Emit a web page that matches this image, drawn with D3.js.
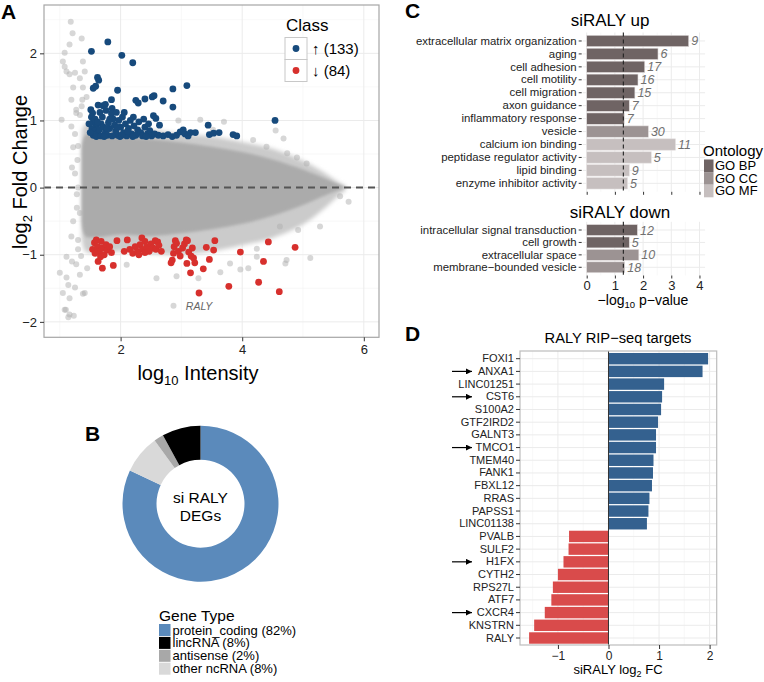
<!DOCTYPE html>
<html>
<head>
<meta charset="utf-8">
<script src="https://cdn.jsdelivr.net/npm/d3@7"></script>
<style>
  body { margin: 0; background: #fff; }
  svg, svg text { font-family: "Liberation Sans", Arial, sans-serif; }
</style>
</head>
<body>
<svg width="764" height="682" font-family="Liberation Sans, Arial, sans-serif"></svg>
<script>
// ---------- data ----------
// A: MA plot (log10 intensity, log2 fold change)
const maUp = [
  [1.52,2.03],[1.79,2.17],[2.02,1.97],[2.20,1.86],[1.62,1.64],[1.64,1.60],[1.55,1.48],[1.59,1.51],[1.95,1.45],
  [2.86,1.47],[3.09,1.52],[2.86,1.20],[2.70,1.29],[2.25,1.30],[2.29,1.26],[2.40,1.32],[2.52,1.35],[2.55,1.37],
  [1.85,1.31],[1.63,1.23],[1.71,1.22],[1.75,1.24],[1.51,1.16],[1.54,1.11],[1.86,1.18],[3.44,0.93],[4.54,1.00],
  [2.54,1.07],[2.58,1.03],[2.21,1.05],[2.64,0.93],
  [1.52,1.05],[1.55,0.98],[1.58,1.02],[1.60,0.92],[1.53,0.88],[1.57,0.84],[1.62,0.80],[1.55,0.78],[1.65,0.86],
  [1.68,0.95],[1.70,1.05],[1.72,0.90],[1.75,0.82],[1.78,0.78],[1.80,0.97],[1.82,0.88],[1.85,1.10],[1.88,1.02],
  [1.90,0.93],[1.92,0.84],[1.95,0.78],[1.97,1.00],[2.00,0.90],[2.03,1.05],[2.05,0.82],[2.08,0.95],[2.10,0.77],
  [2.13,0.88],[2.16,1.00],[2.18,0.80],[2.22,0.92],[2.25,0.78],[2.28,0.86],[2.30,0.98],[2.33,0.82],[2.36,0.77],
  [2.40,0.90],[2.44,0.80],[2.48,0.85],[2.51,0.77],[2.56,0.80],[2.62,0.78],[2.70,0.77],[2.78,0.79],[2.85,0.76],
  [2.92,0.78],[2.98,0.83],[3.03,0.86],[3.06,0.80],[3.11,0.77],[3.15,0.82],[3.23,0.82],[3.46,0.79],[3.53,0.81],
  [3.62,0.82],[3.85,0.79],[3.91,0.77],[1.48,0.95],[1.50,0.82],[1.66,1.12],[1.76,1.15],[1.82,1.02],[1.93,1.12],
  [2.06,1.12],[2.12,0.84],[1.60,0.76],[1.68,0.77],[1.73,0.76],[1.86,0.77],[1.99,0.76],[2.20,0.76],[2.42,0.76],
  [1.62,0.98],[1.78,0.88],[1.94,0.90],[2.02,0.78],[2.38,1.02],[2.46,0.95]
];
const maDown = [
  [1.54,-0.92],[1.63,-1.10],[1.70,-1.20],[1.88,-1.16],[1.94,-0.79],[2.11,-0.78],[2.06,-0.95],[2.35,-0.75],
  [2.57,-0.79],[2.61,-0.81],[3.09,-1.13],[3.15,-1.27],[3.29,-1.57],[3.36,-1.21],[3.46,-1.07],[3.53,-0.93],
  [3.41,-0.89],[3.55,-0.79],[3.78,-1.47],[3.97,-0.96],[4.27,-1.41],[4.35,-1.10],[4.43,-0.81],[4.61,-1.55],
  [4.87,-0.89],
  [1.57,-0.82],[1.60,-0.78],[1.62,-0.88],[1.65,-0.95],[1.58,-0.98],[1.68,-0.80],[1.70,-0.90],[1.73,-1.00],
  [1.76,-0.85],[1.78,-0.93],[1.82,-0.88],[1.85,-0.97],[1.67,-1.03],
  [2.15,-0.92],[2.20,-0.98],[2.24,-0.88],[2.28,-0.95],[2.32,-0.85],[2.36,-0.92],[2.40,-0.80],[2.43,-0.88],
  [2.47,-0.95],[2.50,-0.84],[2.53,-0.90],[2.58,-0.92],[2.63,-0.86],[2.67,-0.95],[2.30,-1.00],[2.40,-0.97],
  [2.85,-1.08],[2.87,-0.98],[2.88,-0.88],[2.90,-0.79],[2.92,-0.83],[2.95,-0.95],[2.98,-1.02],[3.02,-0.90],
  [3.05,-0.84],[3.08,-0.78],[3.10,-0.79],[3.12,-0.96],[3.16,-1.02],[3.18,-0.90],[3.20,-1.05],[3.22,-1.12],
  [2.83,-1.12]
];
const maGray = [
  [1.18,2.47],[1.21,2.30],[1.36,2.22],[1.16,2.13],[1.08,2.01],[1.05,1.88],[1.08,1.80],[1.11,1.73],[1.16,1.69],
  [1.25,1.71],[1.33,1.63],[1.38,1.88],[1.41,1.73],[1.38,1.49],[1.22,1.49],[1.44,1.35],[1.37,1.31],[1.36,1.21],
  [1.27,1.11],[1.19,1.31],[1.03,1.01],[1.19,0.91],[1.27,1.16],[1.33,1.08],[1.29,0.41],[1.25,0.21],[1.33,-0.38],
  [1.19,-0.73],[1.30,-0.78],[1.11,-1.03],[1.00,-1.27],[1.11,-1.34],[1.05,-1.57],[1.14,-1.45],[1.27,-1.14],
  [1.25,-1.49],[1.41,-1.57],[1.08,-1.82],[1.16,-1.89],[1.10,-1.82],[1.14,-1.93],[1.23,-1.91],[1.16,-1.65],
  [1.38,-1.58],[1.33,-1.30],[1.45,-1.20],[2.87,-1.76],[2.10,-1.15],[2.59,-1.35],[2.92,-1.32],[3.28,-1.35],
  [3.64,-1.26],[3.97,-1.22],[4.10,-1.20],[4.24,-1.03],[4.71,-1.13],[5.12,-1.05],[4.24,-0.91],[3.80,-1.13],
  [3.31,1.01],[3.52,0.86],[4.18,0.71],[4.40,0.61],[4.68,0.73],[4.74,0.51],[5.06,0.36],[5.61,-0.13],[5.75,-0.21],
  [5.50,0.01],[5.28,-0.58],[4.92,-0.63],[4.62,-0.58],[4.73,-1.08],[4.55,0.85],[4.90,0.45],[3.70,0.98],
  [2.95,1.00],[1.22,0.60],[1.30,0.00],[1.28,-0.30],[1.25,0.80],[1.30,0.62],[1.20,0.30],[1.28,-0.10],
  [1.22,-0.50],[1.30,-0.92],[1.35,-1.02],[1.20,-1.10]
];
// envelope of the dense grey cloud of non-significant genes
const cloudX   = [1.36, 1.42, 1.6, 2.0, 2.5, 3.0, 3.5, 4.0, 4.5, 5.0, 5.3, 5.55, 5.7];
const outerHi  = [0.85, 0.95, 0.95, 0.88, 0.86, 0.80, 0.76, 0.68, 0.58, 0.40, 0.25, 0.10, 0.02];
const outerLo  = [-0.75, -0.95, -0.98, -0.95, -0.98, -1.00, -0.95, -0.86, -0.75, -0.55, -0.35, -0.15, -0.04];
const innerHi  = [0.60, 0.78, 0.80, 0.75, 0.72, 0.67, 0.61, 0.53, 0.42, 0.27, 0.16, 0.06, 0.01];
const innerLo  = [-0.50, -0.72, -0.74, -0.70, -0.72, -0.68, -0.62, -0.54, -0.42, -0.26, -0.14, -0.05, 0.00];
const classLabels = ["\u2191 (133)", "\u2193 (84)"];

// B: gene types
const geneTypes = ["protein_coding", "lincRNA", "antisense", "other ncRNA"];
const genePct = [82, 8, 2, 8];
const donutOrder = [0, 3, 2, 1]; // clockwise from 12 o'clock

// C: GO enrichment
const goUpTerms = ["extracellular matrix organization", "aging", "cell adhesion", "cell motility",
  "cell migration", "axon guidance", "inflammatory response", "vesicle", "calcium ion binding",
  "peptidase regulator activity", "lipid binding", "enzyme inhibitor activity"];
const goUpP = [3.62, 2.53, 2.06, 1.82, 1.71, 1.51, 1.33, 2.19, 3.15, 2.29, 1.51, 1.45];
const goUpN = [9, 6, 17, 16, 15, 7, 7, 30, 11, 5, 9, 5];
const goUpOnt = ["GO BP", "GO BP", "GO BP", "GO BP", "GO BP", "GO BP", "GO BP", "GO CC", "GO MF", "GO MF", "GO MF", "GO MF"];
const goDownTerms = ["intracellular signal transduction", "cell growth", "extracellular space", "membrane\u2212bounded vesicle"];
const goDownP = [1.80, 1.51, 1.85, 1.35];
const goDownN = [12, 5, 10, 18];
const goDownOnt = ["GO BP", "GO BP", "GO CC", "GO CC"];
const ontologies = ["GO BP", "GO CC", "GO MF"];
const pCut = 1.3;

// D: RIP-seq targets
const ripGenes = ["FOXI1", "ANXA1", "LINC01251", "CST6", "S100A2", "GTF2IRD2", "GALNT3", "TMCO1", "TMEM40",
  "FANK1", "FBXL12", "RRAS", "PAPSS1", "LINC01138", "PVALB", "SULF2", "H1FX", "CYTH2", "RPS27L", "ATF7",
  "CXCR4", "KNSTRN", "RALY"];
const ripFC = [1.97, 1.86, 1.10, 1.06, 1.04, 0.98, 0.94, 0.94, 0.89, 0.88, 0.86, 0.81, 0.79, 0.76,
  -0.78, -0.79, -0.89, -1.00, -1.10, -1.13, -1.26, -1.47, -1.57];
const arrowGenes = ["ANXA1", "CST6", "TMCO1", "H1FX", "CXCR4"];

// ---------- drawing ----------
const FONT = "Liberation Sans, Arial, sans-serif";
const svg = d3.select("svg");
svg.append("rect").attr("width", 764).attr("height", 682).attr("fill", "#fff");
const defs = svg.append("defs");
const intFmt = d => d < 0 ? "\u2212" + Math.abs(d) : String(d);

// soft edge for the point cloud
[["softOuter", 2.2], ["softInner", 1.4]].forEach(([id, s]) => {
  defs.append("filter").attr("id", id).attr("x", "-10%").attr("y", "-20%").attr("width", "120%").attr("height", "140%")
    .append("feGaussianBlur").attr("stdDeviation", s);
});

function styleAxis(a, size) {
  a.attr("font-family", FONT);
  a.select(".domain").remove();
  a.selectAll("line").attr("stroke", "#333");
  a.selectAll("text").attr("font-size", size).attr("fill", "#222");
}

function panelLetter(t, x, y) {
  svg.append("text").attr("x", x).attr("y", y).attr("font-size", 21).attr("font-weight", "bold")
    .attr("fill", "#000").text(t);
}

// ===== Panel A =====
const xA = d3.scaleLinear().domain([0.74, 6.25]).range([44, 379]);
const yA = d3.scaleLinear().domain([-2.23, 2.72]).range([337.3, 5]);
const gA = svg.append("g");
defs.append("clipPath").attr("id", "clipA").append("rect")
  .attr("x", 44).attr("y", 5).attr("width", 335).attr("height", 332.3);

// grid
[1, 3, 5].forEach(v => gA.append("line").attr("x1", xA(v)).attr("x2", xA(v)).attr("y1", 5).attr("y2", 337.3)
  .attr("stroke", "#f4f4f4").attr("stroke-width", 0.6));
[-1.5, -0.5, 0.5, 1.5, 2.5].forEach(v => gA.append("line").attr("y1", yA(v)).attr("y2", yA(v)).attr("x1", 44).attr("x2", 379)
  .attr("stroke", "#f4f4f4").attr("stroke-width", 0.6));
[2, 4, 6].forEach(v => gA.append("line").attr("x1", xA(v)).attr("x2", xA(v)).attr("y1", 5).attr("y2", 337.3)
  .attr("stroke", "#ebebeb").attr("stroke-width", 1));
[-2, -1, 0, 1, 2].forEach(v => gA.append("line").attr("y1", yA(v)).attr("y2", yA(v)).attr("x1", 44).attr("x2", 379)
  .attr("stroke", "#ebebeb").attr("stroke-width", 1));

const plotA = gA.append("g").attr("clip-path", "url(#clipA)");
const cloud = cloudX.map((x, i) => ({ x, oh: outerHi[i], ol: outerLo[i], ih: innerHi[i], il: innerLo[i] }));
plotA.append("path").datum(cloud)
  .attr("d", d3.area().curve(d3.curveCatmullRom).x(d => xA(d.x)).y0(d => yA(d.ol)).y1(d => yA(d.oh)))
  .attr("fill", "#cbcbcb").attr("filter", "url(#softOuter)");
plotA.append("path").datum(cloud)
  .attr("d", d3.area().curve(d3.curveCatmullRom).x(d => xA(d.x)).y0(d => yA(d.il)).y1(d => yA(d.ih)))
  .attr("fill", "#ababab").attr("filter", "url(#softInner)");

plotA.append("g").selectAll("circle").data(maGray).enter().append("circle")
  .attr("cx", d => xA(d[0])).attr("cy", d => yA(d[1])).attr("r", 3)
  .attr("fill", "#b0b0b0").attr("fill-opacity", 0.5);

plotA.append("line").attr("x1", 44).attr("x2", 379).attr("y1", yA(0)).attr("y2", yA(0))
  .attr("stroke", "#555").attr("stroke-width", 2).attr("stroke-dasharray", "7,5");

plotA.append("g").selectAll("circle").data(maUp).enter().append("circle")
  .attr("cx", d => xA(d[0])).attr("cy", d => yA(d[1])).attr("r", 3.4).attr("fill", "#174a7c");
plotA.append("g").selectAll("circle").data(maDown).enter().append("circle")
  .attr("cx", d => xA(d[0])).attr("cy", d => yA(d[1])).attr("r", 3.4).attr("fill", "#d7302d");

gA.append("text").attr("x", xA(3.29)).attr("y", yA(-1.76) + 4).attr("text-anchor", "middle")
  .attr("font-size", 10.5).attr("font-style", "italic").attr("fill", "#666").text("RALY");

gA.append("rect").attr("x", 44).attr("y", 5).attr("width", 335).attr("height", 332.3)
  .attr("fill", "none").attr("stroke", "#a6a6a6").attr("stroke-width", 1.2);

// axes A
const axA = gA.append("g").attr("transform", "translate(0,337.3)")
  .call(d3.axisBottom(xA).tickValues([2, 4, 6]).tickFormat(intFmt).tickSize(4).tickPadding(3));
const ayA = gA.append("g").attr("transform", "translate(44,0)")
  .call(d3.axisLeft(yA).tickValues([-2, -1, 0, 1, 2]).tickFormat(intFmt).tickSize(4).tickPadding(3));
styleAxis(axA, 13);
styleAxis(ayA, 13);

const xlabA = gA.append("text").attr("x", 198).attr("y", 380).attr("text-anchor", "middle").attr("font-size", 20);
xlabA.append("tspan").text("log");
xlabA.append("tspan").attr("font-size", 13).attr("dy", 5).text("10");
xlabA.append("tspan").attr("dy", -5).text(" Intensity");

const ylabA = gA.append("text").attr("transform", "translate(27,172) rotate(-90)").attr("text-anchor", "middle").attr("font-size", 20);
ylabA.append("tspan").text("log");
ylabA.append("tspan").attr("font-size", 13).attr("dy", 5).text("2");
ylabA.append("tspan").attr("dy", -5).text(" Fold Change");

// legend A
const legA = gA.append("g");
legA.append("text").attr("x", 286).attr("y", 31).attr("font-size", 17).text("Class");
[["#174a7c", classLabels[0]], ["#d7302d", classLabels[1]]].forEach((d, i) => {
  const y0 = 37.5 + i * 22;
  legA.append("rect").attr("x", 285).attr("y", y0).attr("width", 22).attr("height", 22)
    .attr("fill", "#fff").attr("stroke", "#c8c8c8");
  legA.append("circle").attr("cx", 296).attr("cy", y0 + 11).attr("r", 3.4).attr("fill", d[0]);
  legA.append("text").attr("x", 312).attr("y", y0 + 16).attr("font-size", 15).text(d[1]);
});
panelLetter("A", 1, 18.5);

// ===== Panel B =====
const typeColor = d3.scaleOrdinal().domain(geneTypes).range(["#5b8abb", "#000000", "#a8a8a8", "#d9d9d9"]);
const gB = svg.append("g").attr("transform", "translate(200.5,503.7)");
const pie = d3.pie().sort(null).value(d => genePct[d]);
const arc = d3.arc().innerRadius(44).outerRadius(78);
gB.selectAll("path").data(pie(donutOrder)).enter().append("path")
  .attr("d", arc).attr("fill", d => typeColor(geneTypes[d.data]));
gB.append("text").attr("y", -1).attr("text-anchor", "middle").attr("font-size", 15.5).text("si RALY");
gB.append("text").attr("y", 17).attr("text-anchor", "middle").attr("font-size", 15.5).text("DEGs");
panelLetter("B", 85, 441);

const legB = svg.append("g");
legB.append("text").attr("x", 159).attr("y", 621).attr("font-size", 15.5).text("Gene Type");
geneTypes.forEach((t, i) => {
  const y0 = 624 + i * 12.9;
  legB.append("rect").attr("x", 159).attr("y", y0).attr("width", 11.5).attr("height", 12)
    .attr("fill", typeColor(t));
  legB.append("text").attr("x", 172.5).attr("y", y0 + 10.5).attr("font-size", 13)
    .text(`${t} (${genePct[i]}%)`);
});

// ===== Panel C =====
const ontColor = d3.scaleOrdinal().domain(ontologies).range(["#6f6464", "#9c9393", "#c6bfbf"]);
const xC = d3.scaleLinear().domain([0, 4.2]).range([586.7, 705.1]);

function goChart(terms, pv, counts, ont, y0, y1, showLabels) {
  const g = svg.append("g");
  const yC = d3.scaleBand().domain(terms).range([y0, y1]).paddingInner(0.12).paddingOuter(0.06);
  const top = y0 - 2, bot = y1 + 2;
  [0.5, 1.5, 2.5, 3.5].forEach(v => g.append("line").attr("x1", xC(v)).attr("x2", xC(v)).attr("y1", top).attr("y2", bot)
    .attr("stroke", "#f4f4f4").attr("stroke-width", 0.6));
  [0, 1, 2, 3, 4].forEach(v => g.append("line").attr("x1", xC(v)).attr("x2", xC(v)).attr("y1", top).attr("y2", bot)
    .attr("stroke", "#ebebeb"));
  terms.forEach(t => g.append("line").attr("x1", xC(0) - 4).attr("x2", xC(4.2)).attr("y1", yC(t) + yC.bandwidth() / 2)
    .attr("y2", yC(t) + yC.bandwidth() / 2).attr("stroke", "#ebebeb"));
  g.selectAll("rect.bar").data(terms).enter().append("rect").attr("class", "bar")
    .attr("x", xC(0)).attr("y", d => yC(d)).attr("height", yC.bandwidth())
    .attr("width", (d, i) => xC(pv[i]) - xC(0)).attr("fill", (d, i) => ontColor(ont[i]))
    .attr("stroke", "#e6e2e2").attr("stroke-width", 0.6);
  g.append("line").attr("x1", xC(pCut)).attr("x2", xC(pCut)).attr("y1", top).attr("y2", bot)
    .attr("stroke", "#222").attr("stroke-width", 1.1).attr("stroke-dasharray", "4,3");
  g.selectAll("text.n").data(terms).enter().append("text").attr("class", "n")
    .attr("x", (d, i) => xC(pv[i]) + 2.5).attr("y", d => yC(d) + yC.bandwidth() / 2 + 4.5)
    .attr("font-size", 12.5).attr("font-style", "italic").attr("fill", "#707070")
    .text((d, i) => counts[i]);
  const ay = g.append("g").attr("transform", `translate(${xC(0) - 5},0)`)
    .call(d3.axisLeft(yC).tickSize(3).tickPadding(2));
  styleAxis(ay, 11.4);
  const ax = g.append("g").attr("transform", `translate(0,${bot})`)
    .call(d3.axisBottom(xC).tickValues([0, 1, 2, 3, 4]).tickFormat(intFmt).tickSize(3).tickPadding(2));
  styleAxis(ax, 13);
  ax.selectAll("text").attr("opacity", showLabels ? 1 : 0);
  return g;
}
goChart(goUpTerms, goUpP, goUpN, goUpOnt, 34.5, 189.8, false);
goChart(goDownTerms, goDownP, goDownN, goDownOnt, 223.8, 273.5, true);

svg.append("text").attr("x", 610).attr("y", 26).attr("text-anchor", "middle").attr("font-size", 17).text("siRALY up");
svg.append("text").attr("x", 620).attr("y", 218).attr("text-anchor", "middle").attr("font-size", 17).text("siRALY down");
const xlabC = svg.append("text").attr("x", 643).attr("y", 305).attr("text-anchor", "middle").attr("font-size", 14);
xlabC.append("tspan").text("\u2212log");
xlabC.append("tspan").attr("font-size", 9.5).attr("dy", 3).text("10");
xlabC.append("tspan").attr("dy", -3).text(" p\u2212value");

const legC = svg.append("g");
legC.append("text").attr("x", 703).attr("y", 155.5).attr("font-size", 15).text("Ontology");
ontologies.forEach((o, i) => {
  const y0 = 159.5 + i * 12.6;
  legC.append("rect").attr("x", 704).attr("y", y0).attr("width", 9.5).attr("height", 12.6).attr("fill", ontColor(o));
  legC.append("text").attr("x", 715).attr("y", y0 + 10.5).attr("font-size", 13).text(o);
});
panelLetter("C", 405, 18);

// ===== Panel D =====
const xD = d3.scaleLinear().domain([-1.75, 2.14]).range([520, 716.7]);
const yD = d3.scaleBand().domain(ripGenes).range([352.35, 644.35]).paddingInner(0.1).paddingOuter(0.05);
const gD = svg.append("g");
[-1.5, -0.5, 0.5, 1.5].forEach(v => gD.append("line").attr("x1", xD(v)).attr("x2", xD(v)).attr("y1", 351).attr("y2", 645)
  .attr("stroke", "#f4f4f4").attr("stroke-width", 0.6));
[-1, 1, 2].forEach(v => gD.append("line").attr("x1", xD(v)).attr("x2", xD(v)).attr("y1", 351).attr("y2", 645)
  .attr("stroke", "#ebebeb"));
ripGenes.forEach(g => gD.append("line").attr("x1", 520).attr("x2", 716.7)
  .attr("y1", yD(g) + yD.bandwidth() / 2).attr("y2", yD(g) + yD.bandwidth() / 2).attr("stroke", "#ebebeb"));
gD.selectAll("rect.bar").data(ripGenes).enter().append("rect").attr("class", "bar")
  .attr("x", (d, i) => xD(Math.min(0, ripFC[i]))).attr("y", d => yD(d))
  .attr("width", (d, i) => Math.abs(xD(ripFC[i]) - xD(0))).attr("height", yD.bandwidth())
  .attr("fill", (d, i) => ripFC[i] > 0 ? "#34618f" : "#d94b4b");
gD.append("line").attr("x1", xD(0)).attr("x2", xD(0)).attr("y1", 351).attr("y2", 645)
  .attr("stroke", "#333").attr("stroke-width", 1);
gD.append("rect").attr("x", 520).attr("y", 351).attr("width", 196.7).attr("height", 294)
  .attr("fill", "none").attr("stroke", "#bdbdbd").attr("stroke-width", 1.2);
const ayD = gD.append("g").attr("transform", "translate(520,0)")
  .call(d3.axisLeft(yD).tickSize(4).tickPadding(2));
const axD = gD.append("g").attr("transform", "translate(0,645)")
  .call(d3.axisBottom(xD).tickValues([-1, 0, 1, 2]).tickFormat(intFmt).tickSize(4).tickPadding(2));
styleAxis(ayD, 11);
styleAxis(axD, 12);

defs.append("marker").attr("id", "arrowhead").attr("viewBox", "0 0 10 10").attr("refX", 10).attr("refY", 5)
  .attr("markerWidth", 9).attr("markerHeight", 6).attr("orient", "auto").attr("markerUnits", "userSpaceOnUse")
  .append("path").attr("d", "M0,0 L10,5 L0,10 z").attr("fill", "#000");
gD.selectAll("line.arr").data(arrowGenes).enter().append("line").attr("class", "arr")
  .attr("x1", 452).attr("x2", 472).attr("y1", d => yD(d) + yD.bandwidth() / 2).attr("y2", d => yD(d) + yD.bandwidth() / 2)
  .attr("stroke", "#000").attr("stroke-width", 1.2).attr("marker-end", "url(#arrowhead)");

svg.append("text").attr("x", 618).attr("y", 343).attr("text-anchor", "middle").attr("font-size", 14.7).text("RALY RIP\u2212seq targets");
const xlabD = svg.append("text").attr("x", 618).attr("y", 674).attr("text-anchor", "middle").attr("font-size", 13);
xlabD.append("tspan").text("siRALY log");
xlabD.append("tspan").attr("font-size", 9).attr("dy", 3).text("2");
xlabD.append("tspan").attr("dy", -3).text(" FC");
panelLetter("D", 405, 341);
</script>
</body>
</html>
